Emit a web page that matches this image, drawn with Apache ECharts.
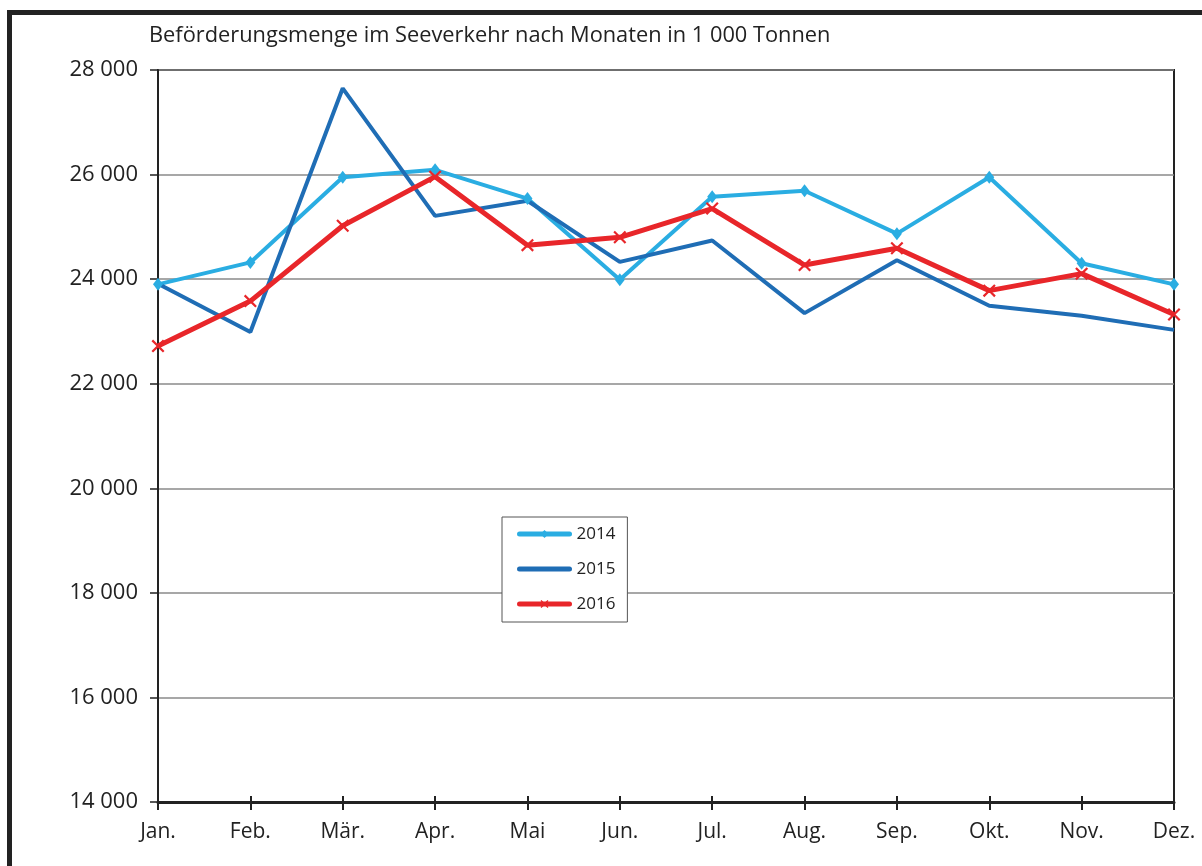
<!DOCTYPE html>
<html>
<head>
<meta charset="utf-8">
<script src="https://cdn.jsdelivr.net/npm/echarts@6/dist/echarts.min.js"></script>
<style>
html,body{margin:0;padding:0;background:#fff;}
#chart{width:1202px;height:866px;}
</style>
</head>
<body>
<div id="chart"></div>
<script>
const titleText = 'Beförderungsmenge im Seeverkehr nach Monaten in 1 000 Tonnen';
const months = ['Jan.','Feb.','Mär.','Apr.','Mai','Jun.','Jul.','Aug.','Sep.','Okt.','Nov.','Dez.'];
const seriesNames = ['2014','2015','2016'];
const v2014 = [23900, 24320, 25950, 26090, 25540, 23990, 25575, 25690, 24870, 25950, 24305, 23900];
const v2015 = [23910, 22990, 27650, 25210, 25500, 24330, 24740, 23350, 24360, 23490, 23300, 23030];
const v2016 = [22720, 23580, 25020, 25960, 24650, 24800, 25350, 24270, 24590, 23780, 24105, 23325];
const yMin = 14000, yMax = 28000, yStep = 2000;

const FONT = 'Open Sans';
const fmt = v => String(v).replace(/\B(?=(\d{3})+(?!\d))/g, ' ');
const xMark = 'path://M0,1.2L1.2,0L5,3.8L8.8,0L10,1.2L6.2,5L10,8.8L8.8,10L5,6.2L1.2,10L0,8.8L3.8,5Z';

const chart = echarts.init(document.getElementById('chart'), null, {renderer: 'canvas'});
chart.setOption({
  animation: false,
  backgroundColor: '#fff',
  textStyle: {fontFamily: FONT},
  title: {
    text: titleText,
    left: 149, top: 25, padding: 0,
    textStyle: {fontFamily: FONT, fontSize: 21.8, fontWeight: 'normal', color: '#222'}
  },
  graphic: [
    {type: 'line', shape: {x1: 7, y1: 12.5, x2: 1202, y2: 12.5}, style: {stroke: '#222', lineWidth: 5}, z: 100},
    {type: 'line', shape: {x1: 9.5, y1: 10, x2: 9.5, y2: 866}, style: {stroke: '#222', lineWidth: 5}, z: 100}
  ],
  legend: {
    orient: 'vertical',
    left: 502, top: 517,
    padding: [8, 12, 9, 15],
    backgroundColor: '#fff',
    borderColor: '#555', borderWidth: 1, borderRadius: 0,
    itemWidth: 50, itemHeight: 10, itemGap: 17,
    lineStyle: {width: 5, cap: 'round'},
    textStyle: {fontFamily: FONT, fontSize: 17, color: '#222', lineHeight: 18, padding: [0, 0, 0, 2]},
    data: [
      {name: seriesNames[0]},
      {name: seriesNames[1], itemStyle: {opacity: 0}},
      {name: seriesNames[2]}
    ]
  },
  grid: {
    left: 158, right: 28, top: 70, bottom: 64,
    show: true, borderColor: '#222', borderWidth: 2, backgroundColor: 'transparent'
  },
  xAxis: [{
    type: 'category', data: months, boundaryGap: false, position: 'bottom',
    axisLine: {lineStyle: {color: '#222', width: 3}},
    axisTick: {show: true, inside: false, length: 8, alignWithLabel: true, lineStyle: {color: '#222', width: 2}},
    axisLabel: {fontFamily: FONT, fontSize: 21, color: '#222', margin: 20},
    splitLine: {show: false}
  }, {
    type: 'category', data: months, boundaryGap: false, position: 'bottom',
    axisLine: {show: false},
    axisTick: {show: true, inside: true, length: 6, lineStyle: {color: '#222', width: 2}},
    axisLabel: {show: false},
    splitLine: {show: false}
  }],
  yAxis: {
    type: 'value', min: yMin, max: yMax, interval: yStep,
    axisLine: {show: true, lineStyle: {color: '#222', width: 2}},
    axisTick: {show: true, length: 8, lineStyle: {color: '#222', width: 1.5}},
    axisLabel: {fontFamily: FONT, fontSize: 22, color: '#222', margin: 20, formatter: fmt},
    splitLine: {show: true, lineStyle: {color: '#8a8a8a', width: 1.5}}
  },
  series: [{
    name: seriesNames[0], type: 'line', data: v2014,
    symbol: 'diamond', symbolSize: [10, 13], showSymbol: true,
    lineStyle: {color: '#2aade2', width: 4},
    itemStyle: {color: '#2aade2'}
  }, {
    name: seriesNames[1], type: 'line', data: v2015,
    symbol: 'none',
    lineStyle: {color: '#1f6db5', width: 4},
    itemStyle: {color: '#1f6db5'}
  }, {
    name: seriesNames[2], type: 'line', data: v2016,
    symbol: xMark, symbolSize: 13, showSymbol: true,
    lineStyle: {color: '#e8262a', width: 5},
    itemStyle: {color: '#e8262a'}
  }]
});
</script>
</body>
</html>
